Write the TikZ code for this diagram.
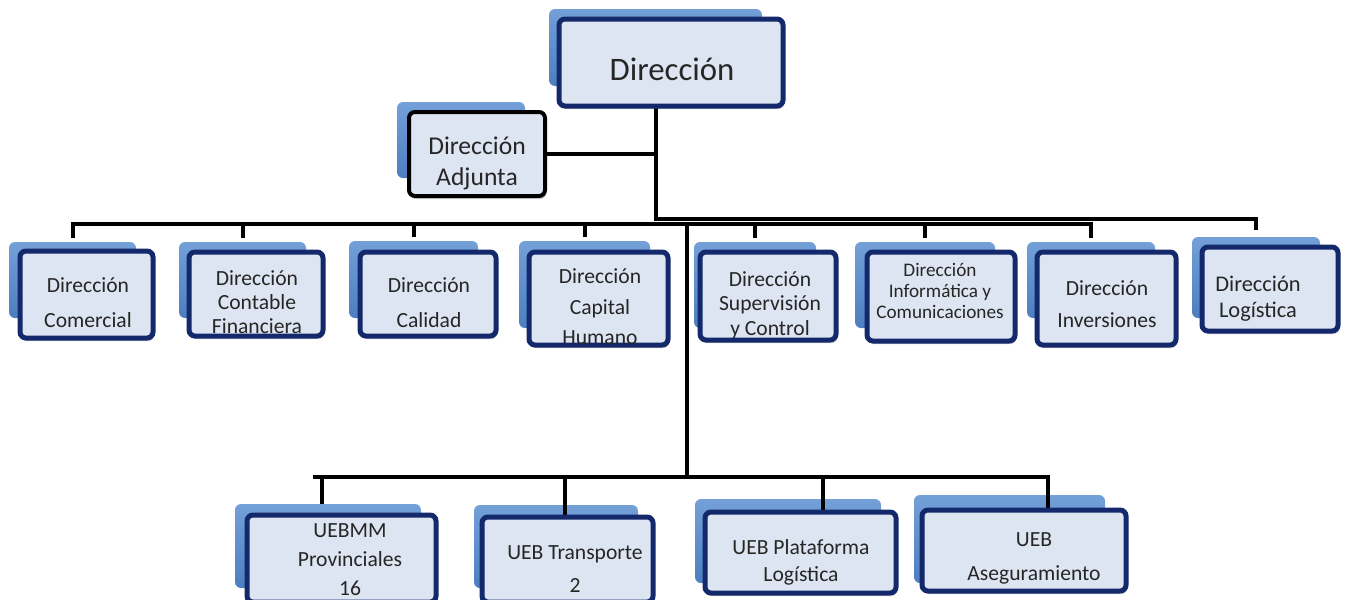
\documentclass[tikz,border=0pt]{standalone}
\usepackage{fontspec}
\setmainfont{Carlito}
\usetikzlibrary{shadows}

\definecolor{navy}{HTML}{13296B}
\definecolor{boxfill}{HTML}{DCE5F1}
\definecolor{backtop}{HTML}{74A0D8}
\definecolor{backbot}{HTML}{4C7EC0}

\pgfdeclarelayer{back}
\pgfdeclarelayer{mid}
\pgfsetlayers{back,mid,main}

\tikzset{
  anybox/.style={rectangle, inner sep=0pt, outer sep=0pt, rounded corners=3pt},
  backbox/.style={anybox, top color=backtop, bottom color=backbot, draw=none},
  frontbox/.style={anybox, fill=boxfill, draw=navy, line width=2.5pt,
    drop shadow={opacity=0.3, fill=black!60, shadow xshift=0.6pt, shadow yshift=-1.6pt}},
  adjbox/.style={frontbox, draw=black, line width=2pt},
  wire/.style={line width=2pt, black},
  lbl/.style={align=center, inner sep=0pt, text=black!85},
}

% box node spanning (x1,y1)-(x2,y2), in pixel units
\newcommand\orgnode[6]{%
  \node[#1, minimum width={(#5-#3-4)*0.5pt}, minimum height={(#6-#4-4)*0.5pt}]
    (#2) at ({(#3+#5)/2},{(#4+#6)/2}) {};}

\begin{document}
\begin{tikzpicture}[x=0.5pt, y=-0.5pt]
\useasboundingbox (0,0) rectangle (1346,600);

% blue back plates
\begin{pgfonlayer}{back}
\orgnode{backbox}{dirB}{547}{7}{764}{88}
\orgnode{backbox}{adjB}{395}{100}{527}{180}
\orgnode{backbox}{b1}{7}{240}{138}{320}
\orgnode{backbox}{b2}{177}{240}{308}{320}
\orgnode{backbox}{b3}{347}{239}{480}{320}
\orgnode{backbox}{b4}{517}{239}{652}{330}
\orgnode{backbox}{b5}{692}{240}{818}{330}
\orgnode{backbox}{b6}{853}{240}{997}{330}
\orgnode{backbox}{b7}{1025}{240}{1157}{320}
\orgnode{backbox}{b8}{1190}{235}{1322}{320}
\orgnode{backbox}{u1}{233}{502}{423}{590}
\orgnode{backbox}{u2}{472}{503}{640}{590}
\orgnode{backbox}{u3}{693}{497}{883}{585}
\orgnode{backbox}{u4}{912}{493}{1107}{585}
\end{pgfonlayer}

% front boxes
\orgnode{frontbox}{dir}{557}{17}{785}{108}
\orgnode{adjbox}{adj}{407}{110}{547}{198}
\orgnode{frontbox}{f1}{18}{249}{155}{340}
\orgnode{frontbox}{f2}{187}{250}{325}{338}
\orgnode{frontbox}{f3}{358}{250}{498}{338}
\orgnode{frontbox}{f4}{527}{250}{670}{347}
\orgnode{frontbox}{f5}{698}{250}{838}{342}
\orgnode{frontbox}{f6}{865}{250}{1017}{343}
\orgnode{frontbox}{f7}{1035}{250}{1178}{347}
\orgnode{frontbox}{f8}{1200}{245}{1340}{333}
\orgnode{frontbox}{v1}{245}{513}{438}{604}
\orgnode{frontbox}{v2}{480}{515}{655}{604}
\orgnode{frontbox}{v3}{703}{510}{898}{595}
\orgnode{frontbox}{v4}{920}{508}{1128}{593}

% labels
\node[lbl, font=\fontsize{16.4}{18}\selectfont] (tdir) at (672,69) {Dirección};
\node[lbl, font=\fontsize{12.8}{15.5}\selectfont] (tadj) at (477,163) {Dirección\\Adjunta};
\node[lbl, font=\fontsize{10.8}{17.5}\selectfont] (t1) at (88,303) {Dirección\\Comercial};
\node[lbl, font=\fontsize{10.8}{12}\selectfont] (t2) at (257,302) {Dirección\\Contable\\Financiera};
\node[lbl, font=\fontsize{10.8}{17.5}\selectfont] (t3) at (429,303) {Dirección\\Calidad};
\node[lbl, font=\fontsize{10.8}{15.2}\selectfont] (t4) at (600,307) {Dirección\\Capital\\Humano};
\node[lbl, font=\fontsize{10.8}{12.3}\selectfont] (t5) at (770,305) {Dirección\\Supervisión\\y Control};
\node[lbl, font=\fontsize{9.6}{10.3}\selectfont] (t6) at (940,291) {Dirección\\Informática y\\Comunicaciones};
\node[lbl, font=\fontsize{10.8}{16}\selectfont] (t7) at (1107,304) {Dirección\\Inversiones};
\node[lbl, font=\fontsize{11.2}{13}\selectfont] (t8) at (1258,299) {Dirección\\Logística};
\node[lbl, font=\fontsize{10.8}{14.5}\selectfont] (tu1) at (350,560) {UEBMM\\Provinciales\\16};
\node[lbl, font=\fontsize{10.8}{16.5}\selectfont] (tu2) at (575,569) {UEB Transporte\\2};
\node[lbl, font=\fontsize{10.8}{13.5}\selectfont] (tu3) at (801,562) {UEB Plataforma\\Logística};
\node[lbl, font=\fontsize{10.8}{17}\selectfont] (tu4) at (1034,558) {UEB\\Aseguramiento};

% connector junctions
\coordinate (jA) at (656,219);
\coordinate (busB) at (687,224);
\coordinate (busC) at (687,477);
\coordinate (busL) at (313,477);
\coordinate (k1) at (322,477);
\coordinate (k2) at (565,477);
\coordinate (k3) at (823,477);
\coordinate (k4) at (1048,477);

\begin{pgfonlayer}{mid}
% trunk from the top box, with the deputy box branch
\draw[wire] (dir.south -| jA) -- (jA) -| ([yshift=3.5pt]b8.north);
\draw[wire] (adj.east) -- (adj.east -| jA);
% first level bus
\draw[wire] ([yshift=2pt]b1.north) -- (b1.north |- busB) -- (b7.north |- busB) -- ([yshift=2pt]b7.north);
\foreach \b in {b2,b3,b4,b5,b6}
  \draw[wire] (\b.north |- busB) -- ([yshift=2pt]\b.north);
% second level bus
\draw[wire] (busB) -- (busC);
\draw[wire] (busL) -- (k4) -- (k4 |- v4.north);
\draw[wire] (k1) -- (k1 |- u1.north);
\draw[wire] (k2) -- (k2 |- v2.north);
\draw[wire] (k3) -- (k3 |- v3.north);
\end{pgfonlayer}
\end{tikzpicture}
\end{document}
